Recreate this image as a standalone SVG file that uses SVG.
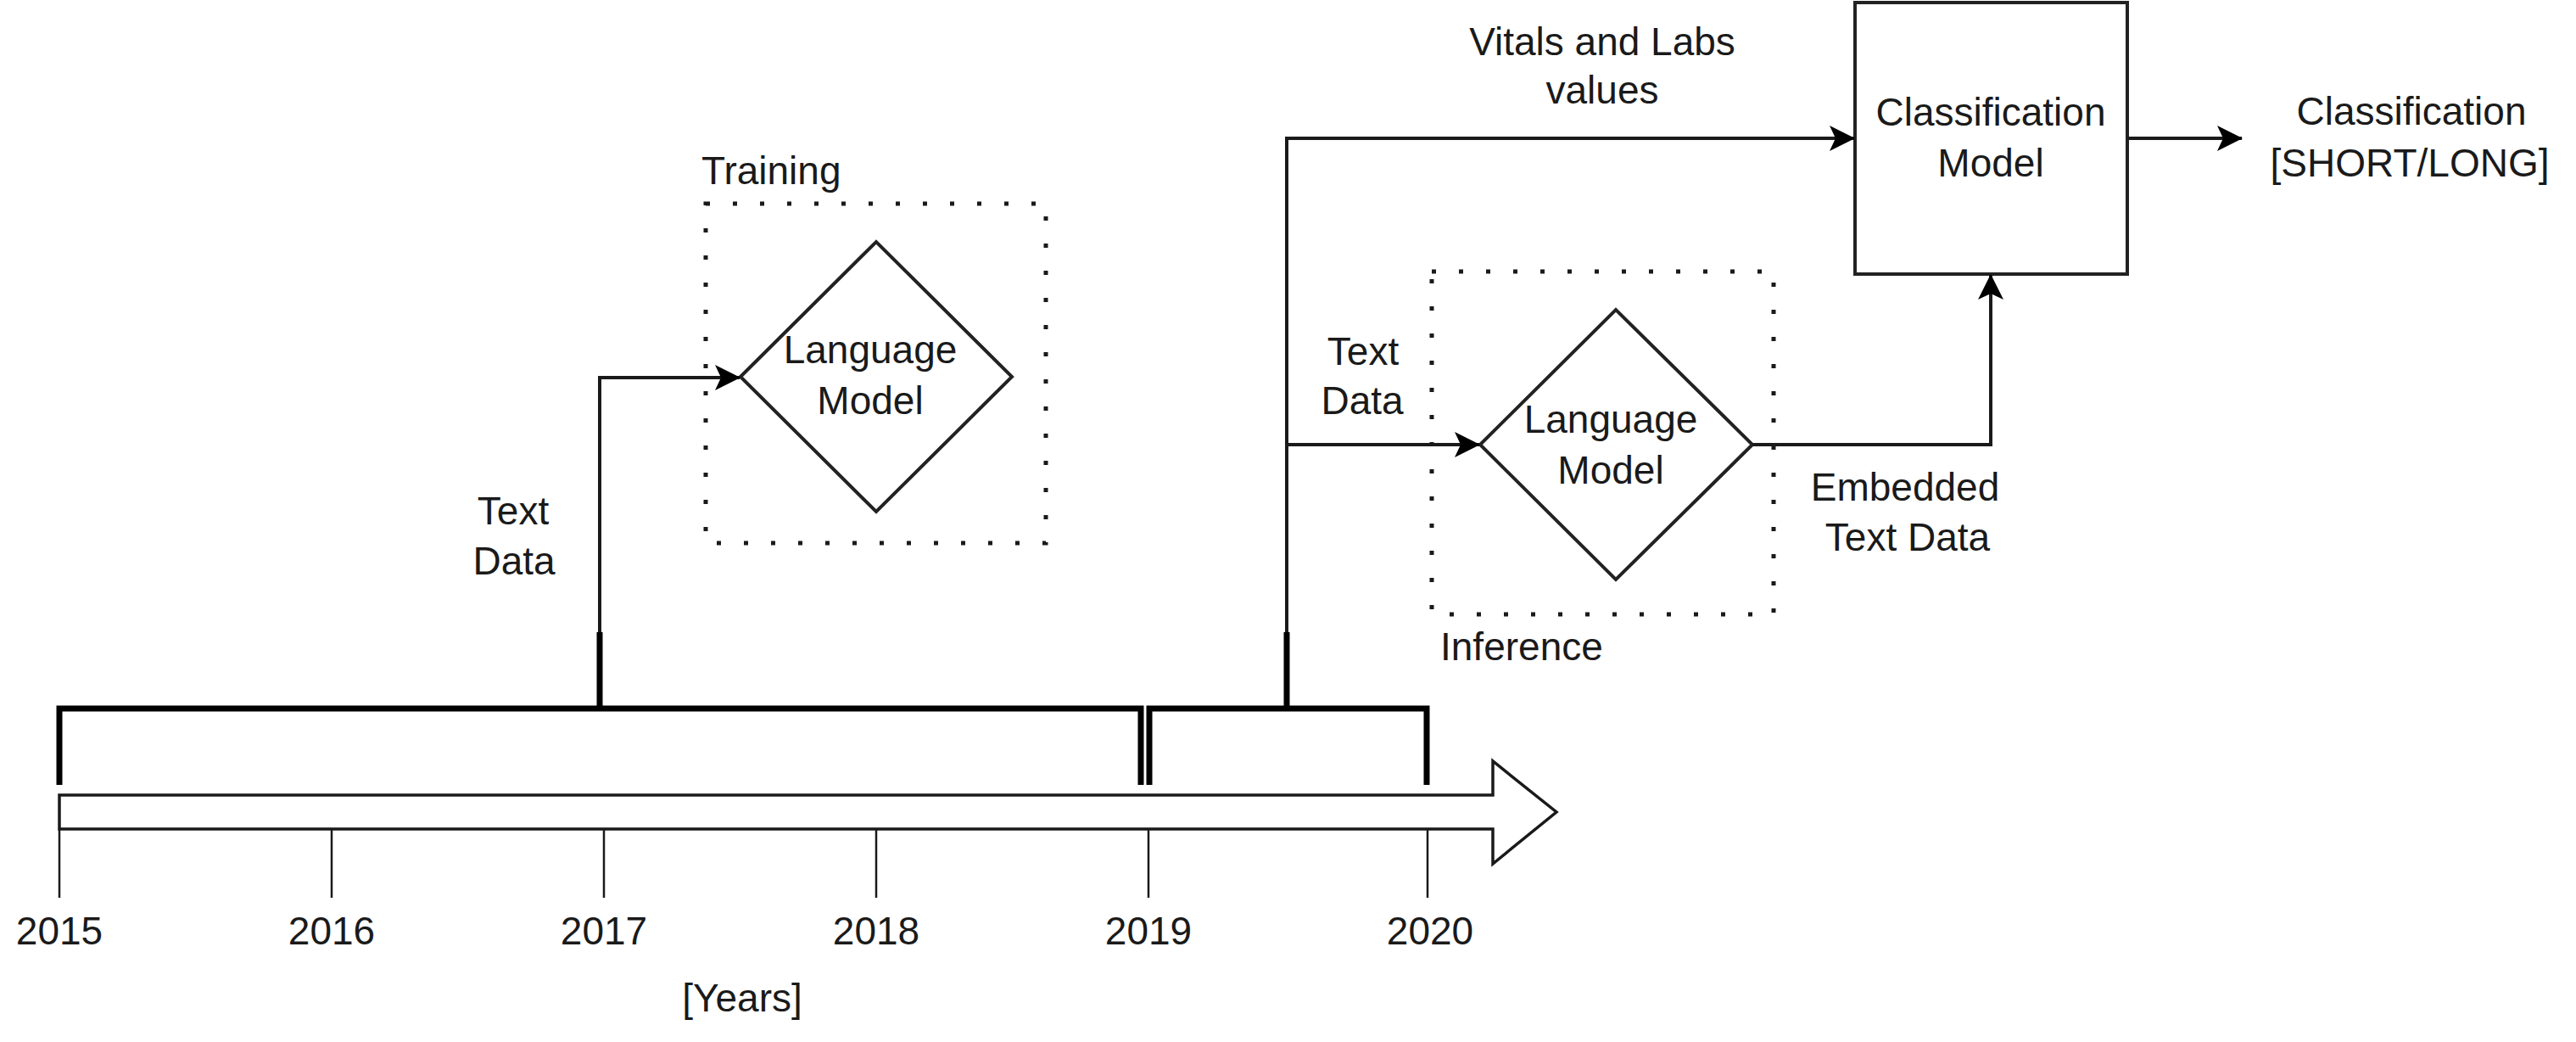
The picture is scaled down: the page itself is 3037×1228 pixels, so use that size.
<svg xmlns="http://www.w3.org/2000/svg" width="3037" height="1228" viewBox="0 0 3037 1228">
<style>
text{font-family:"Liberation Sans",Arial,sans-serif;font-size:46px;fill:#1a1a1a}
.c{text-anchor:middle}
.conn{fill:none;stroke:#1a1a1a;stroke-width:4}
.thick{fill:none;stroke:#000;stroke-width:7}
.tick{fill:none;stroke:#1a1a1a;stroke-width:2.5}
.dot{fill:none;stroke:#1a1a1a;stroke-width:5;stroke-dasharray:5 27}
.shape{fill:#fff;stroke:#222;stroke-width:4}
</style>
<defs>
<marker id="arr" markerUnits="userSpaceOnUse" markerWidth="30" markerHeight="30" viewBox="0 0 30 30" refX="29" refY="15" orient="auto">
<path d="M0,0 L30,15 L0,30 L7,15 Z" fill="#000"/>
</marker>
</defs>
<rect width="3037" height="1228" fill="#fff"/>

<g id="timeline">
<path d="M70,937 H1760 V897 L1835,957 L1760,1018 V977 H70 Z" fill="#fff" stroke="#1a1a1a" stroke-width="3.5"/>
<path class="tick" d="M70,977 V1058 M391,977 V1058 M712,977 V1058 M1033,977 V1058 M1354,977 V1058 M1683,977 V1058"/>
<text class="c" x="70" y="1113">2015</text>
<text class="c" x="391" y="1113">2016</text>
<text class="c" x="712" y="1113">2017</text>
<text class="c" x="1033" y="1113">2018</text>
<text class="c" x="1354" y="1113">2019</text>
<text class="c" x="1686" y="1113">2020</text>
<text class="c" x="875" y="1192">[Years]</text>
</g>

<g id="bracket-training">
<path class="thick" d="M70,925 V835 H1345 V925"/>
</g>
<g id="bracket-inference">
<path class="thick" d="M1355,925 V835 H1682 V925"/>
</g>

<g id="training-group">
<rect class="dot" x="832" y="240" width="401" height="400"/>
<text x="827" y="217">Training</text>
</g>
<g id="lm-training">
<polygon class="shape" points="873,444 1033,285 1193,444 1033,603"/>
<text class="c" x="1026" y="428">Language</text>
<text class="c" x="1026" y="488">Model</text>
</g>

<g id="inference-group">
<rect class="dot" x="1688" y="320" width="403" height="404"/>
<text x="1698" y="778">Inference</text>
</g>
<g id="lm-inference">
<polygon class="shape" points="1745,524 1905,365 2066,524 1905,683"/>
<text class="c" x="1899" y="510">Language</text>
<text class="c" x="1899" y="570">Model</text>
</g>

<g id="classification-model">
<rect class="shape" x="2187" y="3" width="321" height="320"/>
<text class="c" x="2347" y="148">Classification</text>
<text class="c" x="2347" y="208">Model</text>
</g>

<g id="output-label">
<text class="c" x="2843" y="147">Classification</text>
<text class="c" x="2841" y="208">[SHORT/LONG]</text>
</g>

<g id="connectors">
<path class="conn" d="M707,835 V445 H872" marker-end="url(#arr)"/>
<path class="thick" d="M707,838 V745"/>
<path class="conn" d="M1517,835 V163 H2186" marker-end="url(#arr)"/>
<path class="thick" d="M1517,838 V745"/>
<path class="conn" d="M1517,524 H1744" marker-end="url(#arr)"/>
<path class="conn" d="M2066,524 H2347 V324" marker-end="url(#arr)"/>
<path class="conn" d="M2508,163 H2643" marker-end="url(#arr)"/>
</g>

<g id="edge-labels">
<text class="c" x="605" y="618">Text</text>
<text class="c" x="606" y="677">Data</text>
<text class="c" x="1607" y="430">Text</text>
<text class="c" x="1606" y="488">Data</text>
<text class="c" x="1889" y="65">Vitals and Labs</text>
<text class="c" x="1889" y="122">values</text>
<text class="c" x="2246" y="590">Embedded</text>
<text class="c" x="2249" y="649">Text Data</text>
</g>
</svg>
